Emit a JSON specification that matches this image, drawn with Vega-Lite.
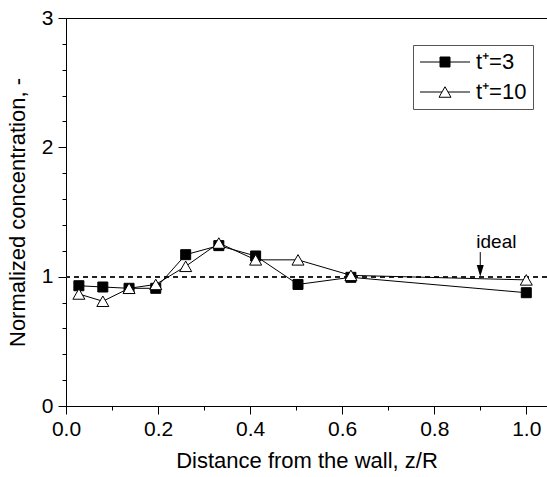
{
  "$schema": "https://vega.github.io/schema/vega-lite/v6.json",
  "width": 481,
  "height": 388,
  "autosize": {"type": "none"},
  "padding": {"left": 66, "top": 18, "right": 0, "bottom": 71},
  "background": "white",
  "config": {
    "font": "Liberation Sans",
    "view": {"stroke": "black", "strokeWidth": 1},
    "axis": {
      "domainColor": "black",
      "domainWidth": 1,
      "tickColor": "black",
      "tickWidth": 1,
      "labelColor": "black",
      "labelFontSize": 21,
      "labelFont": "Liberation Sans",
      "titleFont": "Liberation Sans",
      "titleFontSize": 22,
      "titleFontWeight": "normal",
      "titleColor": "black",
      "grid": false,
      "labelPadding": 5,
      "labelOverlap": false,
      "labelBound": false,
      "labelFlush": false
    },
    "legend": {
      "orient": "none",
      "legendX": 347,
      "legendY": 27,
      "padding": 6,
      "strokeColor": "#555555",
      "fillColor": "white",
      "symbolSize": 100,
      "symbolOffset": 15,
      "labelOffset": 20,
      "labelFontSize": 22,
      "labelColor": "black",
      "labelFont": "Liberation Sans",
      "rowPadding": 8,
      "symbolStrokeWidth": 1,
      "symbolStrokeColor": "black"
    }
  },
  "data": {
    "values": [
      {"series": "t⁺=3", "x": 0.028, "y": 0.93},
      {"series": "t⁺=3", "x": 0.08, "y": 0.92},
      {"series": "t⁺=3", "x": 0.137, "y": 0.91},
      {"series": "t⁺=3", "x": 0.195, "y": 0.91},
      {"series": "t⁺=3", "x": 0.26, "y": 1.17},
      {"series": "t⁺=3", "x": 0.332, "y": 1.24},
      {"series": "t⁺=3", "x": 0.412, "y": 1.16},
      {"series": "t⁺=3", "x": 0.504, "y": 0.94},
      {"series": "t⁺=3", "x": 0.619, "y": 0.995},
      {"series": "t⁺=3", "x": 1.0, "y": 0.876},
      {"series": "t⁺=10", "x": 0.028, "y": 0.866},
      {"series": "t⁺=10", "x": 0.08, "y": 0.81},
      {"series": "t⁺=10", "x": 0.137, "y": 0.91},
      {"series": "t⁺=10", "x": 0.195, "y": 0.94},
      {"series": "t⁺=10", "x": 0.26, "y": 1.08},
      {"series": "t⁺=10", "x": 0.332, "y": 1.26},
      {"series": "t⁺=10", "x": 0.412, "y": 1.13},
      {"series": "t⁺=10", "x": 0.504, "y": 1.13},
      {"series": "t⁺=10", "x": 0.619, "y": 1.01},
      {"series": "t⁺=10", "x": 1.0, "y": 0.975}
    ]
  },
  "resolve": {
    "scale": {"shape": "independent", "fill": "independent", "stroke": "independent"},
    "axis": {"y": "independent"}
  },
  "layer": [
    {
      "mark": {"type": "rule", "color": "#222222", "strokeWidth": 1, "strokeDash": [5, 4]},
      "encoding": {
        "y": {
          "datum": 1, "type": "quantitative",
          "scale": {"domain": [0, 3], "nice": false, "zero": false},
          "axis": {
            "orient": "left",
            "values": [0.2, 0.4, 0.6, 0.8, 1.2, 1.4, 1.6, 1.8, 2.2, 2.4, 2.6, 2.8],
            "tickSize": 4,
            "labels": false,
            "domain": false,
            "title": null,
            "offset": 0
          }
        }
      }
    },
    {
      "mark": {"type": "line", "color": "black", "strokeWidth": 1},
      "encoding": {
        "x": {
          "field": "x", "type": "quantitative",
          "scale": {"domain": [0, 1.045], "nice": false, "zero": false},
          "title": "Distance from the wall, z/R",
          "axis": {
            "values": [0, 0.1, 0.2, 0.3, 0.4, 0.5, 0.6, 0.7, 0.8, 0.9, 1.0],
            "labelExpr": "abs(datum.value*5 - round(datum.value*5)) < 0.001 ? format(datum.value, '.1f') : ''",
            "tickSize": {"condition": {"test": "abs(datum.value*5 - round(datum.value*5)) < 0.001", "value": 8}, "value": 4},
            "labelOverlap": false,
            "labelPadding": 4,
            "titlePadding": 11
          }
        },
        "y": {
          "field": "y", "type": "quantitative",
          "scale": {"domain": [0, 3], "nice": false, "zero": false},
          "title": "Normalized concentration, -",
          "axis": {
            "orient": "left",
            "values": [0, 1, 2, 3],
            "format": "d",
            "tickSize": 8,
            "labelOverlap": false,
            "labelPadding": 5,
            "titlePadding": 12,
            "offset": 0
          }
        },
        "detail": {"field": "series"}
      }
    },
    {
      "mark": {"type": "point", "filled": true, "stroke": "black", "strokeWidth": 1, "opacity": 1, "size": 100},
      "encoding": {
        "x": {"field": "x", "type": "quantitative"},
        "y": {"field": "y", "type": "quantitative", "axis": null},
        "shape": {
          "field": "series", "type": "nominal",
          "scale": {"domain": ["t⁺=3", "t⁺=10"], "range": ["M-1,-1H1V1H-1Z", "M0,-1.05L1.2,1.05H-1.2Z"]},
          "legend": null
        },
        "fill": {
          "field": "series", "type": "nominal",
          "scale": {"domain": ["t⁺=3", "t⁺=10"], "range": ["black", "white"]},
          "legend": null
        }
      }
    },
    {
      "data": {"values": [{"series": "t⁺=3"}, {"series": "t⁺=10"}]},
      "mark": {"type": "point", "filled": true, "strokeWidth": 1, "opacity": 1, "size": 100},
      "encoding": {
        "x": {"field": "x", "type": "quantitative"},
        "y": {"field": "y", "type": "quantitative", "axis": null},
        "shape": {
          "field": "series", "type": "nominal",
          "scale": {"domain": ["t⁺=3", "t⁺=10"], "range": ["M-5,0H-1M1,0H5M-1,-1H1V1H-1Z", "M-5,0H-0.6M0.6,0H5M0,-1.05L1.2,1.05H-1.2Z"]},
          "legend": {"title": null}
        },
        "fill": {
          "field": "series", "type": "nominal",
          "scale": {"domain": ["t⁺=3", "t⁺=10"], "range": ["black", "white"]},
          "legend": {"title": null}
        },
        "stroke": {
          "field": "series", "type": "nominal",
          "scale": {"domain": ["t⁺=3", "t⁺=10"], "range": ["black", "black"]},
          "legend": {"title": null}
        }
      }
    },
    {
      "data": {"values": [{"x": 0.9, "y": 1.19, "y2": 1.04}]},
      "mark": {"type": "rule", "color": "black", "strokeWidth": 1},
      "encoding": {
        "x": {"field": "x", "type": "quantitative"},
        "y": {"field": "y", "type": "quantitative", "axis": null},
        "y2": {"field": "y2"}
      }
    },
    {
      "data": {"values": [{"x": 0.9, "y": 1.045}]},
      "mark": {"type": "point", "filled": true, "color": "black", "opacity": 1, "size": 196, "shape": "M0,0.85L-0.5,-0.85L0.5,-0.85Z"},
      "encoding": {
        "x": {"field": "x", "type": "quantitative"},
        "y": {"field": "y", "type": "quantitative", "axis": null}
      }
    },
    {
      "data": {"values": [{"x": 0.935, "y": 1.27, "label": "ideal"}]},
      "mark": {"type": "text", "fontSize": 19, "font": "Liberation Sans", "color": "black", "align": "center", "baseline": "middle"},
      "encoding": {
        "x": {"field": "x", "type": "quantitative"},
        "y": {"field": "y", "type": "quantitative", "axis": null},
        "text": {"field": "label"}
      }
    }
  ]
}
